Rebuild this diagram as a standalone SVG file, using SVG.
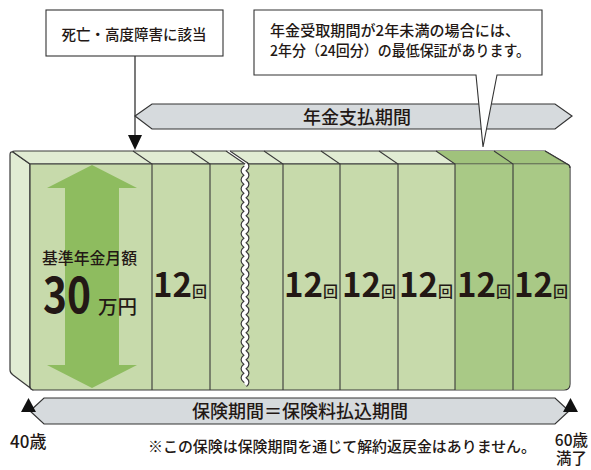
<svg xmlns="http://www.w3.org/2000/svg" width="591" height="470" viewBox="0 0 591 470">
<style>
text{font-family:"Noto Sans CJK JP","Noto Sans",sans-serif;fill:#231815;font-weight:500}
.ol{stroke:#3a3a3a;stroke-width:1.2;stroke-linejoin:round}
.div{stroke:#3a3a3a;stroke-width:1.1;fill:none}
.band{fill:#d6dadd;stroke:#333;stroke-width:1.2}
.box{fill:#fff;stroke:#333;stroke-width:1.1}
.n{font-family:"Noto Sans CJK JP","Liberation Sans",sans-serif;font-weight:700;font-size:33px}
.big{font-weight:700;font-size:50px}
.k{font-size:15px}
</style>
<rect width="591" height="470" fill="#fff"/>

<g id="payout-band">
<polygon class="band" points="135,116 152,104 555,104 572,116 555,129 152,129"/>
<text x="357" y="124" font-size="18" text-anchor="middle">年金支払期間</text>
</g>

<g id="block">
<path class="ol" fill="#e1ecd3" d="M30,164 L13,152 Q10,151 10,155 L10,370 Q10,373 13,375 L33,390 L30,388 Z"/>
<path class="ol" fill="#e1ecd3" d="M30,164 L13,152 Q12,151 15,151 L545,151 L567,164 Z"/>
<path fill="#a0c27c" d="M436,151 L545,151 L567,164 L455,164 Z"/>
<path class="ol" fill="#c7daab" d="M30,164 H566 Q570,164 570,168 V384 Q570,390 564,390 H34 Q30,390 30,386 Z"/>
<path fill="#a9c986" d="M455,164.6 H566 Q569.4,164.6 569.4,168 V384 Q569.4,389.4 564,389.4 H455 Z"/>
<path class="ol" fill="none" d="M545,151 L567,164 Q570,165 570,168"/>
<polygon fill="#8ebc5f" points="92,165 137,188 119,188 119,365 137,365 92,388 47,365 65,365 65,188 47,188"/>
<g class="div">
<path d="M133,151 L152,164 V390"/>
<path d="M191,151 L210,164 V390"/>
<path d="M264,151 L283,164 V390"/>
<path d="M321,151 L340,164 V390"/>
<path d="M379,151 L398,164 V390"/>
<path d="M436,151 L455,164 V390"/>
<path d="M494,151 L513,164 V390"/>
</g>
<g id="break">
<polygon fill="#fff" points="226,150.4 230,150.4 249,164 245,164"/>
<path class="div" d="M226,151 L245,164 M230,151 L249,164"/>
<path d="M245,164 q3,2.25 0,4.5 t0,4.5 t0,4.5 t0,4.5 t0,4.5 t0,4.5 t0,4.5 t0,4.5 t0,4.5 t0,4.5 t0,4.5 t0,4.5 t0,4.5 t0,4.5 t0,4.5 t0,4.5 t0,4.5 t0,4.5 t0,4.5 t0,4.5 t0,4.5 t0,4.5 t0,4.5 t0,4.5 t0,4.5 t0,4.5 t0,4.5 t0,4.5 t0,4.5 t0,4.5 t0,4.5 t0,4.5 t0,4.5 t0,4.5 t0,4.5 t0,4.5 t0,4.5 t0,4.5 t0,4.5 t0,4.5 t0,4.5 t0,4.5 t0,4.5 t0,4.5 t0,4.5 t0,4.5 t0,4.5 t0,4.5 t0,4.5" fill="none" stroke="#3a3a3a" stroke-width="6"/>
<path d="M245,164 q3,2.25 0,4.5 t0,4.5 t0,4.5 t0,4.5 t0,4.5 t0,4.5 t0,4.5 t0,4.5 t0,4.5 t0,4.5 t0,4.5 t0,4.5 t0,4.5 t0,4.5 t0,4.5 t0,4.5 t0,4.5 t0,4.5 t0,4.5 t0,4.5 t0,4.5 t0,4.5 t0,4.5 t0,4.5 t0,4.5 t0,4.5 t0,4.5 t0,4.5 t0,4.5 t0,4.5 t0,4.5 t0,4.5 t0,4.5 t0,4.5 t0,4.5 t0,4.5 t0,4.5 t0,4.5 t0,4.5 t0,4.5 t0,4.5 t0,4.5 t0,4.5 t0,4.5 t0,4.5 t0,4.5 t0,4.5 t0,4.5 t0,4.5" fill="none" stroke="#fff" stroke-width="3.6"/>
</g>
<text x="42" y="264" font-size="15.5" textLength="95" lengthAdjust="spacingAndGlyphs">基準年金月額</text>
<text class="big" x="43" y="313" textLength="48" lengthAdjust="spacingAndGlyphs">30</text>
<text x="98" y="314" font-size="19.5">万円</text>
<text x="180" y="297" text-anchor="middle"><tspan class="n">12</tspan><tspan class="k">回</tspan></text>
<text x="311" y="297" text-anchor="middle"><tspan class="n">12</tspan><tspan class="k">回</tspan></text>
<text x="369" y="297" text-anchor="middle"><tspan class="n">12</tspan><tspan class="k">回</tspan></text>
<text x="426" y="297" text-anchor="middle"><tspan class="n">12</tspan><tspan class="k">回</tspan></text>
<text x="484" y="297" text-anchor="middle"><tspan class="n">12</tspan><tspan class="k">回</tspan></text>
<text x="541" y="297" text-anchor="middle"><tspan class="n">12</tspan><tspan class="k">回</tspan></text>
</g>

<g id="death-box">
<rect class="box" x="46" y="10" width="177" height="46"/>
<text x="134" y="40" font-size="14.5" text-anchor="middle">死亡・高度障害に該当</text>
</g>

<g id="connectors">
<line x1="135" y1="56" x2="135" y2="137" stroke="#333" stroke-width="1.3"/>
<polygon points="128,135 142,135 135,150" fill="#111"/>
</g>

<g id="callout">
<path class="box" d="M254,10 H542 V75 H497 L483,147 L476,75 H254 Z"/>
<text x="270" y="36" font-size="14.5" textLength="250" lengthAdjust="spacingAndGlyphs">年金受取期間が2年未満の場合には、</text>
<text x="270" y="56" font-size="14.5" textLength="260" lengthAdjust="spacingAndGlyphs">2年分（24回分）の最低保証があります。</text>
</g>

<g id="insurance-band">
<polygon class="band" points="30,411 44,398 555,398 569,411 555,424 44,424"/>
<text x="300" y="418" font-size="18" text-anchor="middle">保険期間＝保険料払込期間</text>
</g>

<g id="start">
<polygon points="21,412 36,412 28.5,398" fill="#111"/>
<text x="10" y="448" font-size="17">40歳</text>
</g>
<g id="end">
<polygon points="563,412 578,412 570.5,398" fill="#111"/>
<text x="588" y="446" font-size="15.5" text-anchor="end">60歳</text>
<text x="587" y="464" font-size="15.5" text-anchor="end">満了</text>
</g>
<text x="148" y="452" font-size="14.6" textLength="388" lengthAdjust="spacingAndGlyphs">※この保険は保険期間を通じて解約返戻金はありません。</text>
</svg>
